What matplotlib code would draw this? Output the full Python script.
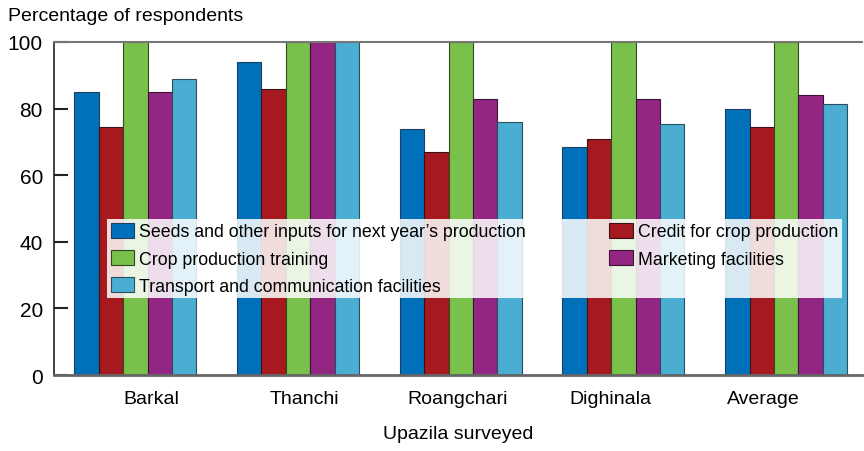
import numpy as np
import matplotlib
matplotlib.use("Agg")
from matplotlib import pyplot as plt

plt.rcParams['font.family'] = ['Liberation Sans Narrow', 'Liberation Sans', 'DejaVu Sans']

# data
upazilas = ["Barkal", "Thanchi", "Roangchari", "Dighinala", "Average"]
seeds = [85, 94, 74, 68.5, 80]
credit = [74.5, 86, 67, 71, 74.5]
training = [100, 100, 100, 100, 100]
marketing = [85, 100, 83, 83, 84]
transport = [89, 100, 76, 75.5, 81.5]

series_names = ["Seeds and other inputs for next year\u2019s production",
                "Credit for crop production",
                "Crop production training",
                "Marketing facilities",
                "Transport and communication facilities"]
series_vals = [seeds, credit, training, marketing, transport]
colors = ["#0070BA", "#A6191E", "#7AC14B", "#922682", "#4BADD2"]
edges = ["#1F3F5F", "#3A1215", "#2E4A1E", "#3D1236", "#2A4F60"]

fig = plt.figure(figsize=(8.64, 4.52), dpi=100)
ax = fig.add_axes([0.0625, 0.168, 0.935, 0.737])

x = np.arange(len(upazilas))
w = 0.15
handles = []
for i, (name, vals) in enumerate(zip(series_names, series_vals)):
    b = ax.bar(x + (i - 2) * w, vals, w, color=colors[i], edgecolor=edges[i],
               linewidth=0.8, label=name, zorder=2)
    handles.append(b)

ax.set_xlim(-0.5, 4.465)
ax.set_ylim(0, 100)
ax.set_yticks(range(0, 101, 20))
ax.tick_params(axis='y', direction='in', length=10, width=1.5, color='#222222',
               labelsize=15, pad=8)
# tick labels sit a bit off the group centres in the original
ax.set_xticks(0.1 + 0.94 * x)
ax.set_xticklabels(upazilas)
ax.tick_params(axis='x', length=0, labelsize=14, pad=11)

ax.spines['right'].set_visible(False)
ax.spines['top'].set_color('#777777')
ax.spines['top'].set_linewidth(1.5)
ax.spines['bottom'].set_color('#666666')
ax.spines['bottom'].set_linewidth(2)
ax.spines['left'].set_color('#222222')
ax.spines['left'].set_linewidth(1.2)

ax.set_xlabel("Upazila surveyed", fontsize=14, labelpad=13)
fig.text(0.009, 0.982, "Percentage of respondents", fontsize=14, va='top', ha='left')

order = [0, 2, 4, 1, 3]
leg = ax.legend([handles[k] for k in order], [series_names[k] for k in order],
                ncol=2, mode="expand", bbox_to_anchor=(0.066, 0.23, 0.909, 0.22),
                loc='lower left', fontsize=12.8, frameon=True, fancybox=False,
                framealpha=0.85, edgecolor='none', handlelength=1.3, handleheight=0.9,
                handletextpad=0.3, labelspacing=0.55, borderpad=0.2, borderaxespad=0)
leg.set_zorder(5)

fig.savefig("out.png", dpi=100)
